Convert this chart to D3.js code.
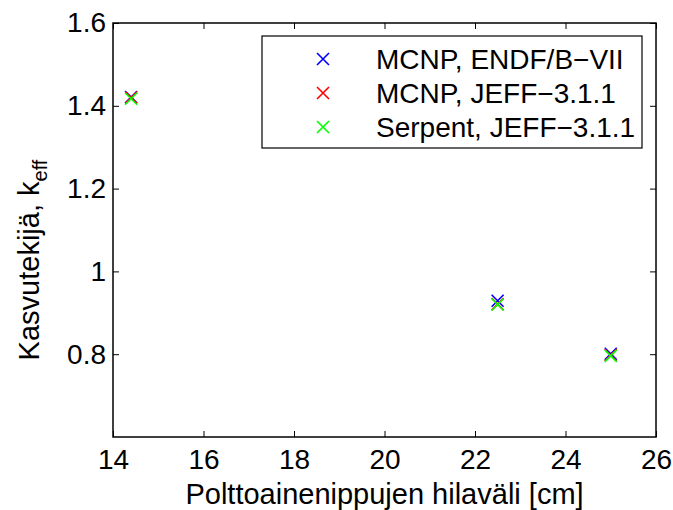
<!DOCTYPE html>
<html>
<head>
<meta charset="utf-8">
<script src="https://cdn.jsdelivr.net/npm/d3@7"></script>
<style>
  body { margin: 0; background: #fff; }
  svg text { font-family: "Liberation Sans", Arial, Helvetica, sans-serif; fill: #000; }
</style>
</head>
<body>
<div id="plot"></div>
<script>
// data
const spacings = [14.4, 22.5, 25];
const seriesNames = ["MCNP, ENDF/B\u2212VII", "MCNP, JEFF\u22123.1.1", "Serpent, JEFF\u22123.1.1"];
const seriesColors = ["#0000ff", "#ff0000", "#00ff00"];
const mcnpEndf = [1.421, 0.929, 0.801];
const mcnpJeff = [1.420, 0.921, 0.798];
const serpentJeff = [1.417, 0.920, 0.796];
const xTicks = [14, 16, 18, 20, 22, 24, 26];
const yTicks = [0.8, 1, 1.2, 1.4, 1.6];

const allSeries = [mcnpEndf, mcnpJeff, serpentJeff];

let W = 673, H = 510;
let margin = {top: 23, right: 17, bottom: 73, left: 113};
let width = W - margin.left - margin.right;
let height = H - margin.top - margin.bottom;

let svg = d3.select("#plot")
	.append("svg")
		.attr("width", W)
		.attr("height", H)
	.append("g")
		.attr("transform", "translate(" + margin.left + "," + margin.top + ")");

let x = d3.scaleLinear().domain([14, 26]).range([0, width]);
let y = d3.scaleLinear().domain([0.6, 1.6]).range([height, 0]);

let fmt = d => d3.format("")(+d.toFixed(1));

// bottom axis, ticks inward
svg.append("g")
	.attr("transform", "translate(0," + height + ")")
	.call(d3.axisBottom(x).tickValues(xTicks).tickSize(-6).tickPadding(12).tickFormat(fmt))
	.call(g => g.select(".domain").remove())
	.selectAll("text").style("font-size", "28px");

// top ticks
svg.append("g")
	.call(d3.axisTop(x).tickValues(xTicks).tickSize(-6).tickFormat(""))
	.call(g => g.select(".domain").remove());

// left axis
svg.append("g")
	.call(d3.axisLeft(y).tickValues(yTicks).tickSize(-6).tickPadding(7).tickFormat(fmt))
	.call(g => g.select(".domain").remove())
	.selectAll("text").style("font-size", "28px");

// right ticks
svg.append("g")
	.attr("transform", "translate(" + width + ",0)")
	.call(d3.axisRight(y).tickValues(yTicks).tickSize(-6).tickFormat(""))
	.call(g => g.select(".domain").remove());

svg.selectAll(".tick line").attr("stroke", "#000").attr("stroke-width", 1);

// box
svg.append("rect")
	.attr("width", width)
	.attr("height", height)
	.attr("fill", "none")
	.attr("stroke", "#000")
	.attr("stroke-width", 1.5);

// markers
function cross(g, cx, cy, s, color) {
	g.append("path")
		.attr("d", "M" + (cx - s) + "," + (cy - s) + "L" + (cx + s) + "," + (cy + s) +
			"M" + (cx - s) + "," + (cy + s) + "L" + (cx + s) + "," + (cy - s))
		.attr("stroke", color)
		.attr("stroke-width", 1.6)
		.attr("fill", "none");
}

allSeries.forEach((vals, i) => {
	let g = svg.append("g");
	vals.forEach((v, j) => cross(g, x(spacings[j]), y(v), 6, seriesColors[i]));
});

// legend
let leg = svg.append("g").attr("transform", "translate(149,13)");
leg.append("rect")
	.attr("width", 380)
	.attr("height", 112)
	.attr("fill", "#fff")
	.attr("stroke", "#000")
	.attr("stroke-width", 1.2);
seriesNames.forEach((name, i) => {
	let cy = 23 + i * 34;
	cross(leg, 61, cy, 6, seriesColors[i]);
	leg.append("text")
		.attr("x", 114)
		.attr("y", cy + 10)
		.style("font-size", "28px")
		.text(name);
});

// axis labels
svg.append("text")
	.attr("x", width / 2)
	.attr("y", height + 67)
	.attr("text-anchor", "middle")
	.style("font-size", "29px")
	.text("Polttoainenippujen hilaväli [cm]");

let yl = svg.append("text")
	.attr("transform", "translate(-74," + (height / 2 + 30) + ") rotate(-90)")
	.attr("text-anchor", "middle")
	.style("font-size", "29px");
yl.append("tspan").text("Kasvutekijä, k");
yl.append("tspan").attr("dy", 8).style("font-size", "20px").text("eff");
</script>
</body>
</html>
